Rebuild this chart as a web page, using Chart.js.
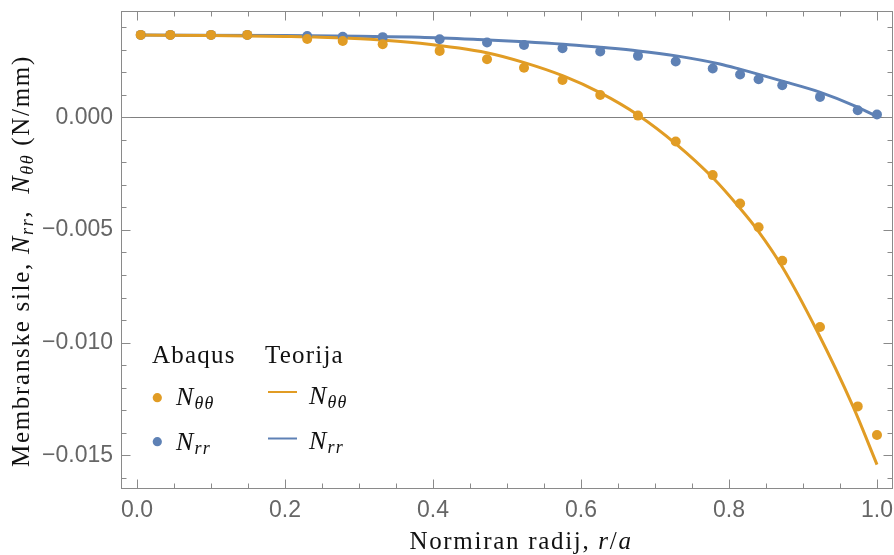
<!DOCTYPE html>
<html>
<head>
<meta charset="utf-8">
<script src="https://cdn.jsdelivr.net/npm/chart.js@4.4.1/dist/chart.umd.min.js"></script>
<style>
  html, body { margin: 0; padding: 0; background: #fff; }
</style>
</head>
<body>
<canvas id="membraneChart" width="894" height="555"></canvas>
<script>
// Abaqus rezultati (tocke)
const rAbaqus = [0.005, 0.045, 0.100, 0.149, 0.230, 0.278, 0.332, 0.409, 0.473, 0.523, 0.575,
                 0.626, 0.677, 0.728, 0.778, 0.815, 0.840, 0.872, 0.923, 0.974, 1.000];
const nThetaAbaqus = [0.00365, 0.00365, 0.00365, 0.00365, 0.00347, 0.00338, 0.00324, 0.00294, 0.00257,
                      0.00219, 0.00165, 0.00098, 0.00007, -0.00108, -0.00257, -0.00383, -0.00488,
                      -0.00637, -0.00931, -0.01283, -0.01410];
const nRrAbaqus = [0.00365, 0.00365, 0.00365, 0.00365, 0.00360, 0.00357, 0.00355, 0.00346, 0.00331,
                   0.00320, 0.00306, 0.00291, 0.00272, 0.00247, 0.00216, 0.00189, 0.00168, 0.00142,
                   0.00090, 0.00031, 0.00012];

// Teorija (krivulje)
const rTheoryTheta = [0, 0.1, 0.2, 0.2475, 0.315, 0.3825, 0.4726, 0.5234, 0.576, 0.6256, 0.6774,
                      0.7282, 0.7786, 0.8146, 0.8393, 0.8717, 0.9182, 0.9676, 1.0];
const nThetaTheory = [0.00364, 0.00362, 0.00358, 0.00355, 0.00346, 0.00328, 0.00286, 0.00242, 0.00183,
                      0.00109, 0.00009, -0.00118, -0.00270, -0.00403, -0.00504, -0.00662, -0.00943,
                      -0.01283, -0.01541];
const rTheoryRr = [0, 0.2, 0.3, 0.3825, 0.4726, 0.5234, 0.576, 0.6256, 0.6774, 0.7287, 0.7876,
                   0.8146, 0.8709, 0.9226, 0.9722, 1.0];
const nRrTheory = [0.00364, 0.00362, 0.00359, 0.00355, 0.00343, 0.00335, 0.00324, 0.00310, 0.00294,
                   0.00272, 0.00236, 0.00213, 0.00161, 0.00111, 0.00047, 0.00003];

const xTicks = [0.0, 0.2, 0.4, 0.6, 0.8, 1.0];
const yTicks = [-0.015, -0.010, -0.005, 0.000];

const YELLOW = '#E19C24';
const BLUE = '#5E81B5';
const FRAME = '#8a8a8a';
const SERIF = '"Liberation Serif", "Times New Roman", serif';

function toXY(xs, ys) {
    return xs.map((v, i) => ({ x: v, y: ys[i] }));
}

// tekst s indeksima (N_rr, N_θθ)
function drawRich(ctx, parts, x, y, align) {
    let total = 0;
    parts.forEach(p => { ctx.font = p.f; total += ctx.measureText(p.t).width + (p.gap || 0); });
    let cx = align === 'center' ? x - total / 2 : x;
    ctx.textAlign = 'left';
    ctx.textBaseline = 'alphabetic';
    parts.forEach(p => {
        ctx.font = p.f;
        ctx.fillText(p.t, cx, y + (p.dy || 0));
        cx += ctx.measureText(p.t).width + (p.gap || 0);
    });
}

const roman = '25px ' + SERIF;
const ital = 'italic 26px ' + SERIF;
const sub = 'italic 18px ' + SERIF;

const decorPlugin = {
    id: 'decor',
    beforeDatasetsDraw(chart) {
        const { ctx, chartArea: a, scales: { y } } = chart;
        ctx.save();
        ctx.strokeStyle = '#808080';
        ctx.lineWidth = 1;
        const y0 = Math.round(y.getPixelForValue(0)) + 0.5;
        ctx.beginPath();
        ctx.moveTo(a.left, y0);
        ctx.lineTo(a.right, y0);
        ctx.stroke();
        ctx.restore();
    },
    afterDatasetsDraw(chart) {
        const { ctx, chartArea: a, scales: { x, y } } = chart;
        const L = a.left - 0.5, R = a.right + 0.5, T = a.top + 0.5, B = a.bottom + 0.5;
        ctx.save();
        ctx.strokeStyle = FRAME;
        ctx.lineWidth = 1;
        ctx.strokeRect(L, T, R - L, B - T);
        ctx.beginPath();
        // x crtice
        for (let i = -1; i <= 21; i++) {
            const v = i * 0.05;
            if (v < x.min || v > x.max) continue;
            const len = i % 4 === 0 ? 9 : 5;
            const px = Math.round(x.getPixelForValue(v)) + 0.5;
            ctx.moveTo(px, B); ctx.lineTo(px, B - len);
            ctx.moveTo(px, T); ctx.lineTo(px, T + len);
        }
        // y crtice
        for (let i = -16; i <= 4; i++) {
            const v = i * 0.001;
            const len = i % 5 === 0 ? 9 : 5;
            const py = Math.round(y.getPixelForValue(v)) + 0.5;
            ctx.moveTo(L, py); ctx.lineTo(L + len, py);
            ctx.moveTo(R, py); ctx.lineTo(R - len, py);
        }
        ctx.stroke();
        ctx.restore();
    },
    afterDraw(chart) {
        const ctx = chart.ctx;
        const hasSpacing = 'letterSpacing' in ctx;
        ctx.save();
        ctx.fillStyle = '#111';
        if (hasSpacing) ctx.letterSpacing = '1.7px';

        // naslov x osi
        drawRich(ctx, [
            { t: 'Normiran radij, ', f: roman },
            { t: 'r', f: 'italic 25px ' + SERIF },
            { t: '/', f: roman },
            { t: 'a', f: 'italic 25px ' + SERIF }
        ], 521, 549, 'center');

        // naslov y osi
        ctx.save();
        ctx.translate(29, 261);
        ctx.rotate(-Math.PI / 2);
        drawRich(ctx, [
            { t: 'Membranske sile, ', f: roman },
            { t: 'N', f: ital },
            { t: 'rr', f: sub, dy: 4 },
            { t: ',  ', f: roman },
            { t: 'N', f: ital },
            { t: 'θθ', f: sub, dy: 4 },
            { t: ' (N/mm)', f: roman }
        ], 0, 0, 'center');
        ctx.restore();

        // legenda
        if (hasSpacing) ctx.letterSpacing = '1.2px';
        ctx.font = roman;
        ctx.fillText('Abaqus', 152, 363);
        ctx.fillText('Teorija', 265, 363);

        ctx.fillStyle = YELLOW;
        ctx.beginPath(); ctx.arc(157.3, 397.7, 4.6, 0, Math.PI * 2); ctx.fill();
        ctx.fillStyle = BLUE;
        ctx.beginPath(); ctx.arc(157.3, 441.7, 4.6, 0, Math.PI * 2); ctx.fill();

        ctx.lineWidth = 2;
        ctx.strokeStyle = YELLOW;
        ctx.beginPath(); ctx.moveTo(268, 392); ctx.lineTo(297, 392); ctx.stroke();
        ctx.strokeStyle = BLUE;
        ctx.beginPath(); ctx.moveTo(268, 438.5); ctx.lineTo(297, 438.5); ctx.stroke();

        ctx.fillStyle = '#111';
        drawRich(ctx, [{ t: 'N', f: ital }, { t: 'θθ', f: sub, dy: 4 }], 176, 405, 'left');
        drawRich(ctx, [{ t: 'N', f: ital }, { t: 'rr', f: sub, dy: 4 }], 176, 450, 'left');
        drawRich(ctx, [{ t: 'N', f: ital }, { t: 'θθ', f: sub, dy: 4 }], 309, 404, 'left');
        drawRich(ctx, [{ t: 'N', f: ital }, { t: 'rr', f: sub, dy: 4 }], 309, 449, 'left');
        ctx.restore();
    }
};

const tickFont = { family: '"Liberation Sans", Arial, sans-serif', size: 23 };

new Chart(document.getElementById('membraneChart').getContext('2d'), {
    type: 'scatter',
    data: {
        datasets: [
            {
                label: 'Abaqus N_θθ',
                data: toXY(rAbaqus, nThetaAbaqus),
                showLine: false,
                pointRadius: 5,
                pointBorderWidth: 0,
                pointBackgroundColor: YELLOW
            },
            {
                label: 'Abaqus N_rr',
                data: toXY(rAbaqus, nRrAbaqus),
                showLine: false,
                pointRadius: 5,
                pointBorderWidth: 0,
                pointBackgroundColor: BLUE
            },
            {
                label: 'Teorija N_θθ',
                data: toXY(rTheoryTheta, nThetaTheory),
                showLine: true,
                borderColor: YELLOW,
                borderWidth: 3,
                pointRadius: 0,
                cubicInterpolationMode: 'monotone',
                fill: false
            },
            {
                label: 'Teorija N_rr',
                data: toXY(rTheoryRr, nRrTheory),
                showLine: true,
                borderColor: BLUE,
                borderWidth: 3,
                pointRadius: 0,
                cubicInterpolationMode: 'monotone',
                fill: false
            }
        ]
    },
    options: {
        responsive: false,
        devicePixelRatio: 1,
        animation: false,
        events: [],
        layout: { autoPadding: false, padding: { top: 11, right: 2, left: 0, bottom: 0 } },
        plugins: {
            legend: { display: false },
            tooltip: { enabled: false }
        },
        scales: {
            x: {
                type: 'linear',
                min: -0.0203,
                max: 1.0203,
                grid: { display: false, drawTicks: false },
                border: { display: false },
                ticks: {
                    font: tickFont,
                    color: '#666',
                    padding: 9,
                    maxRotation: 0,
                    autoSkip: false,
                    callback: v => v.toFixed(1)
                },
                afterBuildTicks: s => { s.ticks = xTicks.map(v => ({ value: v })); },
                afterFit: s => { s.height = 67; s.paddingLeft = 0; s.paddingRight = 0; }
            },
            y: {
                type: 'linear',
                min: -0.01645,
                max: 0.00471,
                grid: { display: false, drawTicks: false },
                border: { display: false },
                ticks: {
                    font: tickFont,
                    color: '#666',
                    padding: 9,
                    autoSkip: false,
                    callback: v => (v < 0 ? '\u2212' : '') + Math.abs(v).toFixed(3)
                },
                afterBuildTicks: s => { s.ticks = yTicks.map(v => ({ value: v })); },
                afterFit: s => { s.width = 122; s.paddingTop = 0; s.paddingBottom = 0; }
            }
        }
    },
    plugins: [decorPlugin]
});
</script>
</body>
</html>
